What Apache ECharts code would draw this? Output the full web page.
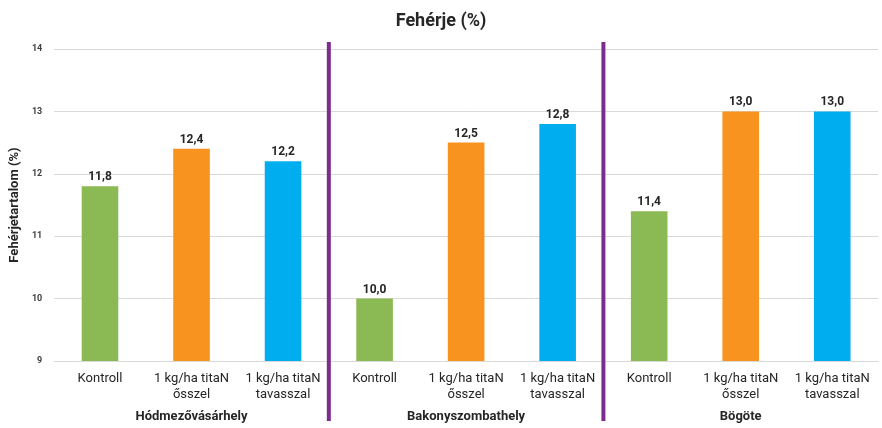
<!DOCTYPE html>
<html><head><meta charset="utf-8">
<script src="https://cdn.jsdelivr.net/npm/echarts@6/dist/echarts.min.js"></script>
<style>html,body{margin:0;padding:0;background:#fff}#c{width:882px;height:428px}</style>
</head><body><div id="c"></div>
<script>
var categories = ['Kontroll','1 kg/ha titaN\nősszel','1 kg/ha titaN\ntavasszal','Kontroll','1 kg/ha titaN\nősszel','1 kg/ha titaN\ntavasszal','Kontroll','1 kg/ha titaN\nősszel','1 kg/ha titaN\ntavasszal'];
var groups = ['Hódmezővásárhely','Bakonyszombathely','Bögöte'];
var values = [11.8, 12.4, 12.2, 10.0, 12.5, 12.8, 11.4, 13.0, 13.0];
var treatmentColors = ['#8BB953','#F7931E','#00AEEF'];
var FONT = '"Roboto", sans-serif';

var chart = echarts.init(document.getElementById('c'));
chart.setOption({
  animation: false,
  title: {text: 'Fehérje (%)', left: 'center', top: 7,
    textStyle: {fontFamily: FONT, fontSize: 18, fontWeight: 'bold', color: '#262626'}},
  grid: {left: 52, right: 4, top: 49, bottom: 67},
  xAxis: [{
    type: 'category', data: categories,
    axisLine: {show: true, lineStyle: {color: '#d9d9d9'}},
    axisTick: {show: false},
    axisLabel: {fontFamily: FONT, fontSize: 13, color: '#262626', lineHeight: 16, margin: 10, interval: 0}
  }, {
    type: 'category', data: groups, position: 'bottom', offset: 47,
    axisLine: {show: false}, axisTick: {show: false},
    axisLabel: {fontFamily: FONT, fontSize: 13, fontWeight: 'bold', color: '#262626', margin: 2}
  }],
  yAxis: {
    type: 'value', min: 9, max: 14, interval: 1,
    name: 'Fehérjetartalom (%)', nameLocation: 'middle', nameGap: 30, nameRotate: 90,
    nameTextStyle: {fontFamily: FONT, fontSize: 13, fontWeight: 'bold', color: '#262626'},
    axisLine: {show: false}, axisTick: {show: false},
    axisLabel: {fontFamily: FONT, fontSize: 9, fontWeight: 'bold', color: '#404040', margin: 12},
    splitLine: {lineStyle: {color: '#d9d9d9'}}
  },
  series: [{
    type: 'bar', xAxisIndex: 0, barWidth: '40%',
    data: values.map(function(v, i){ return {value: v, itemStyle: {color: treatmentColors[i % 3]}}; }),
    label: {show: true, position: 'top', distance: 3, fontFamily: FONT, fontSize: 12, fontWeight: 'bold', color: '#262626',
      formatter: function(p){ return p.value.toFixed(1).replace('.', ','); }}
  }]
});

var lines = [];
[2, 5].forEach(function(i){
  var a = chart.convertToPixel({xAxisIndex: 0}, i);
  var b = chart.convertToPixel({xAxisIndex: 0}, i + 1);
  var x = (a + b) / 2;
  var top = chart.convertToPixel({yAxisIndex: 0}, 14) - 7;
  lines.push({type: 'line', shape: {x1: x, y1: top, x2: x, y2: 421},
    style: {stroke: '#7B2D8E', lineWidth: 4}, z: 10});
});
chart.setOption({graphic: lines});
</script>
</body></html>
